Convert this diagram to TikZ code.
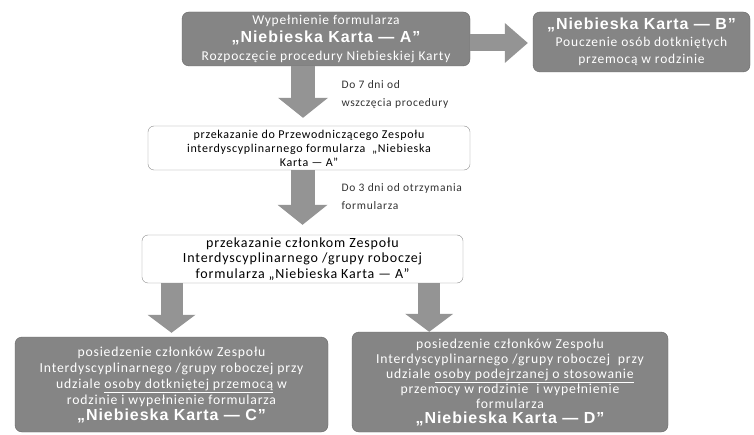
\documentclass[tikz,border=0pt]{standalone}
\usepackage{fontspec}
\setmainfont[LetterSpace=6]{Carlito}
\newfontfamily\kartafont[LetterSpace=6]{Liberation Sans}
\usetikzlibrary{arrows.meta}

\newcommand{\karta}[1]{{\fontsize{16}{18}\selectfont\kartafont\bfseries „Niebieska Karta — #1”}}

\begin{document}
\begin{tikzpicture}[x=1pt,y=1pt,
    ciemny/.style={draw=black!60, fill=black!48, text=white, rounded corners=7pt,
        align=center, inner sep=2pt, font=\fontsize{13.5}{18}\selectfont},
    jasny/.style={draw=black!45, fill=white, rounded corners=6pt,
        align=center, inner sep=2pt, font=\fontsize{12}{14}\selectfont},
    termin/.style={anchor=west, align=left, text=black!80, font=\fontsize{11.5}{18}\selectfont},
    strzalka/.style={draw=black!42, line width=24pt,
        -{Triangle[width=50pt,length=20pt,line width=0pt]}},
    strzalkaM/.style={draw=black!42, line width=22pt,
        -{Triangle[width=48pt,length=18pt,line width=0pt]}},
    strzalkaP/.style={draw=black!42, line width=17pt,
        -{Triangle[width=40pt,length=23pt,line width=0pt]}}]

    % Tlo
    \fill[white] (0,0) rectangle (754,434);
    \useasboundingbox (0,0) rectangle (754,434);

    % Karta A i B
    \node[ciemny, minimum width=288pt, minimum height=54pt] (kartaA) at (326,395)
        {Wypełnienie formularza\\ \karta{A}\\ Rozpoczęcie procedury Niebieskiej Karty};
    \node[ciemny, minimum width=217pt, minimum height=60pt,
        font=\fontsize{13.5}{17}\selectfont] (kartaB) at (641.5,392)
        {\karta{B}\\ Pouczenie osób dotkniętych\\ przemocą w rodzinie};

    % Przekazanie
    \node[jasny, minimum width=322pt, minimum height=44pt] (przewodniczacy) at (309,286)
        {przekazanie do Przewodniczącego Zespołu\\ interdyscyplinarnego formularza \ „Niebieska\\ Karta — A”};
    \node[jasny, minimum width=321pt, minimum height=48pt,
        font=\fontsize{14}{15.5}\selectfont] (zespol) at (302.5,175)
        {przekazanie członkom Zespołu\\ Interdyscyplinarnego /grupy roboczej\\ formularza „Niebieska Karta — A”};

    % Terminy
    \node[termin] (termin7) at (338,340) {Do 7 dni od\\ wszczęcia procedury};
    \node[termin] (termin3) at (338,237) {Do 3 dni od otrzymania\\ formularza};

    % Karta C i D
    \node[ciemny, minimum width=313pt, minimum height=95pt,
        font=\fontsize{13.7}{16}\selectfont] (kartaC) at (171.5,49.5)
        {posiedzenie członków Zespołu\\ Interdyscyplinarnego /grupy roboczej przy\\
         udziale \underline{osoby dotkniętej przemocą} w\\ rodzinie i wypełnienie formularza\\
         \karta{C}};
    \node[ciemny, minimum width=316pt, minimum height=100pt,
        font=\fontsize{13.7}{15}\selectfont] (kartaD) at (510,52)
        {posiedzenie członków Zespołu\\ Interdyscyplinarnego /grupy roboczej \ przy\\
         udziale \underline{osoby podejrzanej o stosowanie}\\ przemocy w rodzinie \ i wypełnienie\\
         formularza\\ \karta{D}};

    % Strzalki
    \coordinate (s1) at ([xshift=-6pt]przewodniczacy.north);
    \coordinate (s4) at ([xshift=-34pt]zespol.south east);
    \draw[strzalkaP] ([yshift=-4pt]kartaA.east) -- ([xshift=-5pt,yshift=-1pt]kartaB.west);
    \draw[strzalka] (kartaA.south -| s1) -- ([yshift=8pt]s1);
    \draw[strzalka] (przewodniczacy.south -| zespol.north) -- ([yshift=10pt]zespol.north);
    \draw[strzalkaM] (zespol.south -| kartaC.north) -- ([yshift=4pt]kartaC.north);
    \draw[strzalkaM] (s4) -- (s4 |- kartaD.north);

\end{tikzpicture}
\end{document}
